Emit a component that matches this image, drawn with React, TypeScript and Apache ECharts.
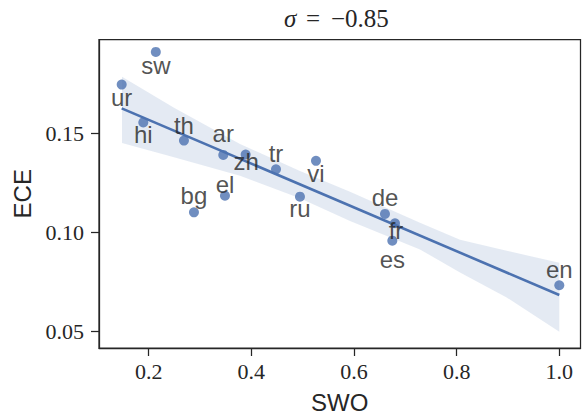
import React, { useEffect, useRef } from "react";
import * as echarts from "echarts";

const languages = ["sw", "ur", "hi", "th", "ar", "zh", "tr", "vi", "el", "bg", "ru", "de", "fr", "es", "en"];
const swoValues = [0.214, 0.1475, 0.1896, 0.2688, 0.3454, 0.389, 0.4481, 0.526, 0.3487, 0.2883, 0.4948, 0.6604, 0.6799, 0.6747, 1.0];
const eceValues = [0.191, 0.1745, 0.1554, 0.1462, 0.139, 0.1392, 0.1317, 0.136, 0.1184, 0.11, 0.1179, 0.1092, 0.1045, 0.0957, 0.0732];

const fitX = [0.1475, 1.0];
const fitY = [0.1625, 0.06825];

const bandX = [0.1481, 0.2494, 0.378, 0.4948, 0.5923, 0.7286, 0.8066, 0.8975, 1.0];
const bandUpper = [0.1785, 0.16275, 0.1445, 0.13085, 0.12035, 0.10475, 0.09615, 0.0906, 0.0845];
const bandLower = [0.145, 0.13775, 0.1285, 0.1171, 0.1056, 0.09125, 0.07965, 0.067, 0.04975];

const xTicks = [0.2, 0.4, 0.6, 0.8, 1.0];
const yTicks = [0.05, 0.1, 0.15];

const titleSymbol = "σ";
const titleEquals = "=";
const titleValue = "−0.85";
const xName = "SWO";
const yName = "ECE";

// label placement (pixels, relative to point) – styling only
const labelOffsets: Record<string, [number, number]> = {
  sw: [0, 14], ur: [0, 13], hi: [0, 12], th: [0, -15], ar: [0, -21], zh: [0.5, 7.5],
  tr: [0, -16], vi: [0, 12.5], el: [0, -11], bg: [0, -17], ru: [0, 12], de: [0, -16],
  fr: [1, 7], es: [0, 19], en: [0, -16],
};

const INK = "#262626";
const BLUE = "#4c72b0";

export default function App() {
  const ref = useRef<HTMLDivElement>(null);
  useEffect(() => {
    if (!ref.current) return;
    const chart = echarts.init(ref.current, undefined, { renderer: "svg" });
    const points = languages.map((n, i) => ({ name: n, value: [swoValues[i], eceValues[i]] }));
    const bandData = bandX.map((x, i) => [x, bandUpper[i], bandLower[i]]);
    const serif = { fontFamily: "Liberation Serif", fontSize: 22, color: INK };
    const titleFont = { fontFamily: "Liberation Serif", fontSize: 25, fill: INK };
    chart.setOption({
      animation: false,
      backgroundColor: "#ffffff",
      graphic: [
        {
          type: "text", left: 284, top: 6, silent: true,
          style: { text: titleSymbol, ...titleFont, fontStyle: "italic" },
        },
        {
          type: "text", left: 306, top: 6, silent: true,
          style: { text: titleEquals, ...titleFont },
        },
        {
          type: "text", left: 331, top: 6, silent: true,
          style: { text: titleValue, ...titleFont },
        },
      ],
      grid: {
        left: 99, top: 39.5, right: 6.5, bottom: 68,
        show: true, borderColor: INK, borderWidth: 1.25, backgroundColor: "transparent",
      },
      xAxis: {
        type: "value",
        min: 0.1033, max: 1.0413,
        name: xName,
        nameLocation: "middle",
        nameGap: 42,
        nameTextStyle: { fontFamily: "Liberation Sans", fontSize: 24, color: INK },
        axisLine: { show: true, onZero: false, lineStyle: { color: INK, width: 1.25 } },
        axisTick: { show: true, length: 8, customValues: xTicks, lineStyle: { color: INK, width: 1.25 } },
        axisLabel: {
          customValues: xTicks, margin: 12,
          formatter: (v: number) => v.toFixed(1),
          ...serif,
        },
        splitLine: { show: false },
      },
      yAxis: {
        type: "value",
        min: 0.0415, max: 0.19725,
        name: yName,
        nameLocation: "middle",
        nameGap: 64,
        nameTextStyle: { fontFamily: "Liberation Sans", fontSize: 24, color: INK },
        axisLine: { show: true, onZero: false, lineStyle: { color: INK, width: 1.25 } },
        axisTick: { show: true, length: 8, customValues: yTicks, lineStyle: { color: INK, width: 1.25 } },
        axisLabel: {
          customValues: yTicks, margin: 15,
          formatter: (v: number) => v.toFixed(2),
          ...serif,
        },
        splitLine: { show: false },
      },
      series: [
        {
          type: "custom",
          z: 1,
          silent: true,
          data: bandData,
          encode: { x: 0, y: [1, 2] },
          renderItem: (params: any, api: any) => {
            if (params.dataIndex !== 0) return null;
            const up = bandData.map((d) => api.coord([d[0], d[1]]));
            const lo = bandData.map((d) => api.coord([d[0], d[2]])).reverse();
            return {
              type: "polygon",
              shape: { points: up.concat(lo) },
              style: { fill: BLUE, opacity: 0.15 },
            };
          },
        },
        {
          type: "scatter",
          z: 2,
          symbolSize: 10,
          data: points,
          itemStyle: { color: BLUE, opacity: 0.8 },
        },
        {
          type: "line",
          z: 3,
          data: fitX.map((x, i) => [x, fitY[i]]),
          symbol: "none",
          lineStyle: { color: BLUE, width: 2.6 },
        },
        {
          type: "scatter",
          z: 4,
          symbolSize: 0,
          silent: true,
          data: points.map((p) => ({
            ...p,
            label: { offset: labelOffsets[p.name] },
          })),
          itemStyle: { color: "transparent" },
          label: {
            show: true,
            position: "inside",
            formatter: (p: any) => p.name,
            align: "center",
            verticalAlign: "middle",
            fontFamily: "Liberation Sans",
            fontSize: 24,
            color: INK,
          },
        },
      ],
    });
    return () => chart.dispose();
  }, []);
  return (
    <div
      ref={ref}
      style={{ position: "fixed", left: 0, top: 0, width: 587, height: 419, background: "#fff" }}
    />
  );
}
